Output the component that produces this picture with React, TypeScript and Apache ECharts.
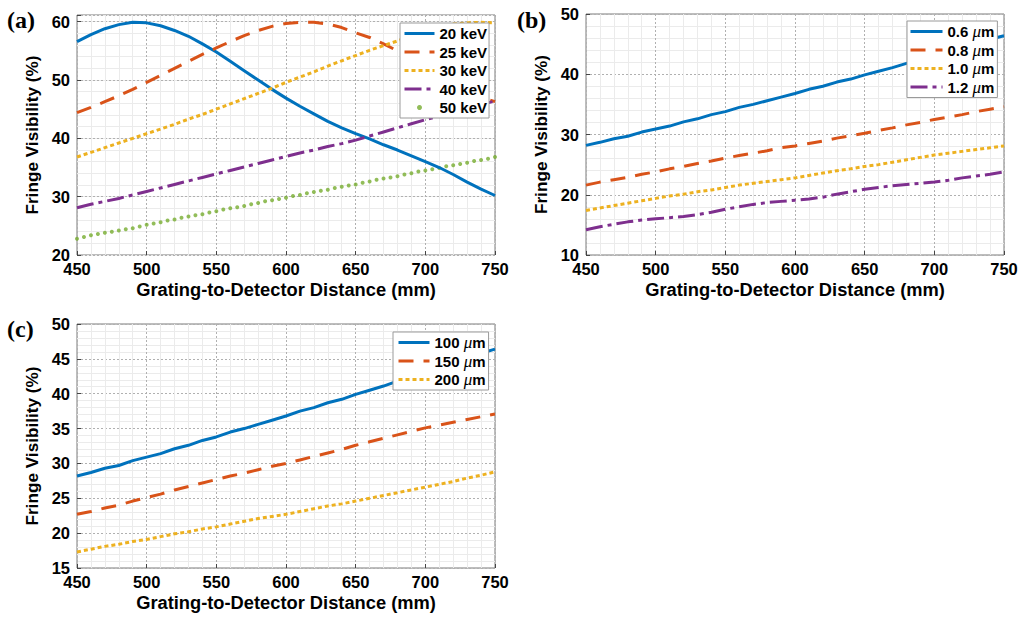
import React, { useEffect, useRef } from 'react';
import * as echarts from 'echarts';

// Grating-to-detector distance (mm)
const distance = [450, 460, 470, 480, 490, 500, 510, 520, 530, 540, 550, 560, 570, 580, 590, 600, 610, 620, 630, 640, 650, 660, 670, 680, 690, 700, 710, 720, 730, 740, 750];
const distance5 = [450, 455, 460, 465, 470, 475, 480, 485, 490, 495, 500, 505, 510, 515, 520, 525, 530, 535, 540, 545, 550, 555, 560, 565, 570, 575, 580, 585, 590, 595, 600, 605, 610, 615, 620, 625, 630, 635, 640, 645, 650, 655, 660, 665, 670, 675, 680, 685, 690, 695, 700, 705, 710, 715, 720, 725, 730, 735, 740, 745, 750];

// (a) energies
const keV20 = [56.6, 57.8, 58.8, 59.5, 59.9, 59.8, 59.3, 58.5, 57.5, 56.2, 54.8, 53.2, 51.6, 50.0, 48.4, 46.9, 45.5, 44.2, 42.9, 41.8, 40.8, 39.9, 38.9, 38.0, 37.0, 36.0, 35.0, 33.8, 32.5, 31.3, 30.2];
const keV25 = [44.4, 45.3, 46.3, 47.3, 48.4, 49.6, 50.8, 52.0, 53.2, 54.4, 55.5, 56.6, 57.6, 58.5, 59.2, 59.7, 59.9, 59.9, 59.6, 59.0, 58.1, 57.3, 56.2, 55.0, 53.7, 52.4, 51.0, 49.6, 48.2, 47.0, 46.3];
const keV30 = [36.8, 37.6, 38.4, 39.2, 40.0, 40.8, 41.6, 42.4, 43.3, 44.1, 45.0, 45.9, 46.8, 47.7, 48.6, 49.6, 50.5, 51.4, 52.4, 53.3, 54.2, 55.1, 55.9, 56.7, 57.6, 58.4, 59.1, 59.6, 59.8, 59.9, 59.8];
const keV40 = [28.1, 28.7, 29.2, 29.7, 30.3, 30.9, 31.5, 32.1, 32.7, 33.3, 33.9, 34.5, 35.1, 35.7, 36.3, 36.9, 37.5, 38.0, 38.6, 39.1, 39.7, 40.4, 41.1, 41.8, 42.5, 43.2, 43.8, 44.5, 45.1, 45.8, 46.4];
const keV50 = [22.8, 23.1, 23.4, 23.6, 23.8, 24.0, 24.2, 24.4, 24.6, 24.9, 25.2, 25.4, 25.6, 25.9, 26.1, 26.4, 26.6, 26.8, 27.0, 27.3, 27.5, 27.8, 28.0, 28.2, 28.4, 28.7, 28.9, 29.2, 29.4, 29.6, 29.8, 30.1, 30.3, 30.6, 30.8, 31.0, 31.2, 31.5, 31.7, 31.9, 32.1, 32.4, 32.6, 32.9, 33.1, 33.3, 33.5, 33.8, 34.0, 34.3, 34.5, 34.7, 34.9, 35.2, 35.4, 35.6, 35.8, 36.1, 36.3, 36.5, 36.8];

// (b) grating periods
const um06 = [28.2, 28.7, 29.3, 29.7, 30.4, 30.9, 31.4, 32.1, 32.6, 33.3, 33.8, 34.5, 35.0, 35.6, 36.2, 36.8, 37.5, 38.0, 38.7, 39.2, 39.9, 40.5, 41.1, 41.8, 42.5, 43.2, 43.9, 44.5, 45.2, 45.8, 46.4];
const um08 = [21.6, 22.1, 22.5, 22.9, 23.4, 23.8, 24.3, 24.7, 25.2, 25.6, 26.1, 26.5, 26.9, 27.3, 27.8, 28.1, 28.5, 28.9, 29.4, 29.8, 30.2, 30.7, 31.1, 31.6, 32.0, 32.5, 32.9, 33.3, 33.8, 34.2, 34.6];
const um10 = [17.4, 17.8, 18.2, 18.6, 19.0, 19.4, 19.8, 20.1, 20.5, 20.8, 21.2, 21.6, 21.9, 22.2, 22.5, 22.8, 23.2, 23.6, 24.0, 24.3, 24.7, 25.0, 25.4, 25.8, 26.2, 26.6, 26.9, 27.2, 27.5, 27.8, 28.1];
const um12 = [14.2, 14.7, 15.1, 15.5, 15.8, 16.0, 16.2, 16.4, 16.7, 17.1, 17.6, 18.0, 18.4, 18.7, 18.9, 19.1, 19.3, 19.6, 20.1, 20.5, 20.9, 21.2, 21.5, 21.7, 21.9, 22.1, 22.4, 22.8, 23.1, 23.4, 23.8];

// (c) source sizes
const um100 = [28.2, 28.7, 29.3, 29.7, 30.4, 30.9, 31.4, 32.1, 32.6, 33.3, 33.8, 34.5, 35.0, 35.6, 36.2, 36.8, 37.5, 38.0, 38.7, 39.2, 39.9, 40.5, 41.1, 41.8, 42.5, 43.2, 43.9, 44.5, 45.2, 45.8, 46.4];
const um150 = [22.7, 23.1, 23.6, 24.0, 24.6, 25.1, 25.6, 26.2, 26.7, 27.2, 27.7, 28.2, 28.6, 29.1, 29.6, 30.0, 30.5, 31.0, 31.5, 32.0, 32.6, 33.1, 33.6, 34.1, 34.6, 35.1, 35.5, 35.9, 36.3, 36.7, 37.1];
const um200 = [17.3, 17.7, 18.1, 18.4, 18.8, 19.1, 19.5, 19.9, 20.2, 20.6, 20.9, 21.3, 21.7, 22.1, 22.4, 22.7, 23.1, 23.5, 23.9, 24.2, 24.6, 25.0, 25.4, 25.8, 26.2, 26.6, 27.0, 27.4, 27.9, 28.3, 28.8];

const legendA = ['20 keV', '25 keV', '30 keV', '40 keV', '50 keV'];
const legendB = ['0.6 μm', '0.8 μm', '1.0 μm', '1.2 μm'];
const legendC = ['100 μm', '150 μm', '200 μm'];
const markerOnly = ['50 keV'];

const xName = 'Grating-to-Detector Distance (mm)';
const yName = 'Fringe Visibility (%)';

const SANS = "'Liberation Sans', Arial, Helvetica, sans-serif";
const SERIF = "'Liberation Serif', 'Times New Roman', serif";
const COL = { blue: '#0072BD', red: '#D95319', yellow: '#EDB120', purple: '#7E2F8E', green: '#77AC30' };
const SOLID = 'solid';
const DASH = [15, 10];
const DOT = [4, 3];
const DASHDOT = [17, 5, 4, 5];

const majorSplit = { show: true, lineStyle: { color: '#b0b0b0', width: 1, type: [2, 2] } };
const minorSplitStyle = { color: '#ebebeb', width: 1, type: 'solid' };
const tickLabel = { fontFamily: SANS, fontWeight: 'bold', fontSize: 16.5, color: '#000' };
const xNameStyle = { fontFamily: SANS, fontWeight: 'bold', fontSize: 18.3, color: '#000' };
const yNameStyle = { fontFamily: SANS, fontWeight: 'bold', fontSize: 17.2, color: '#000' };

function pairs(xs: number[], ys: number[]) {
  return xs.map((x, i) => [x, ys[i]]);
}

function lineSeries(name: string, ys: number[], color: string, type: any, idx: number) {
  return {
    type: 'line', name, data: pairs(distance, ys), xAxisIndex: idx, yAxisIndex: idx,
    symbol: 'none', showSymbol: false, silent: true,
    lineStyle: { color, width: 3, type, cap: 'butt' }, itemStyle: { color },
  };
}

function xAxis(gridIndex: number) {
  return {
    type: 'value', gridIndex, min: 450, max: 750, interval: 50, z: 1,
    axisLine: { show: false },
    axisTick: { show: true, inside: true, length: 4, lineStyle: { color: '#444' } },
    axisLabel: { ...tickLabel, margin: 5 },
    splitLine: majorSplit,
    minorTick: { show: false, splitNumber: 5 },
    minorSplitLine: { show: true, lineStyle: minorSplitStyle },
    name: xName, nameLocation: 'middle', nameGap: 25, nameTextStyle: xNameStyle,
  };
}

function yAxis(gridIndex: number, min: number, max: number, interval: number, minor: boolean) {
  return {
    type: 'value', gridIndex, min, max, interval, z: 1,
    axisLine: { show: false },
    axisTick: { show: true, inside: true, length: 4, lineStyle: { color: '#444' } },
    axisLabel: {
      ...tickLabel, margin: 7,
      formatter: (v: number) => (Math.abs(v / interval - Math.round(v / interval)) < 1e-6 ? String(v) : ''),
    },
    splitLine: majorSplit,
    minorTick: { show: false, splitNumber: 5 },
    minorSplitLine: { show: minor, lineStyle: minorSplitStyle },
    name: yName, nameLocation: 'middle', nameGap: 37, nameTextStyle: yNameStyle,
  };
}

function legend(names: string[], left: number, top: number, itemWidth: number, padding: number[]) {
  return {
    data: names.map((n) => (markerOnly.includes(n) ? { name: n } : { name: n, itemStyle: { opacity: 0 } })),
    orient: 'vertical', left, top, padding, itemWidth, itemHeight: 5, itemGap: 1.5,
    backgroundColor: '#ffffff', borderColor: '#9a9a9a', borderWidth: 1, borderRadius: 0,
    selectedMode: false, z: 10,
    lineStyle: { width: 3 },
    formatter: (n: string) => n.replace('μ', '{mu|μ}'),
    textStyle: {
      fontFamily: SANS, fontWeight: 'bold', fontSize: 15, color: '#000', lineHeight: 17,
      rich: { mu: { fontFamily: SERIF, fontStyle: 'italic', fontWeight: 'normal', fontSize: 17, lineHeight: 17, color: '#000' } },
    },
  };
}

function panelLabel(text: string, x: number, y: number) {
  return {
    type: 'text', x, y, silent: true,
    style: { text, fontFamily: SERIF, fontWeight: 'bold', fontSize: 24, fill: '#000', align: 'left', verticalAlign: 'middle' },
  };
}

export default function App() {
  const ref = useRef<HTMLDivElement>(null);

  useEffect(() => {
    if (!ref.current) return;
    const chart = echarts.init(ref.current, undefined, { renderer: 'svg' });
    const gridStyle = { show: true, backgroundColor: '#ffffff', borderColor: '#7a7a7a', borderWidth: 1, containLabel: false };
    const minorYA = {
      type: 'value', gridIndex: 0, min: 20, max: 61.15, interval: 2, z: 0, position: 'left',
      axisLine: { show: false }, axisTick: { show: false }, axisLabel: { show: false },
      splitLine: { show: true, lineStyle: minorSplitStyle },
    };
    const option: any = {
      animation: false,
      backgroundColor: '#ffffff',
      grid: [
        { ...gridStyle, left: 77, top: 15, width: 418, height: 240 },
        { ...gridStyle, left: 586, top: 14, width: 418, height: 241 },
        { ...gridStyle, left: 77, top: 324, width: 418, height: 244 },
      ],
      xAxis: [xAxis(0), xAxis(1), xAxis(2)],
      yAxis: [
        yAxis(0, 20, 61.15, 10, false),
        yAxis(1, 10, 50, 10, true),
        yAxis(2, 15, 50, 5, true),
        minorYA,
      ],
      legend: [
        legend(legendA, 400, 23, 30, [2, 2, 2, 3]),
        legend(legendB, 907, 21, 32, [2, 3, 2, 2]),
        legend(legendC, 393, 332, 31, [2, 3, 2, 4]),
      ],
      series: [
        lineSeries('20 keV', keV20, COL.blue, SOLID, 0),
        lineSeries('25 keV', keV25, COL.red, DASH, 0),
        lineSeries('30 keV', keV30, COL.yellow, DOT, 0),
        lineSeries('40 keV', keV40, COL.purple, DASHDOT, 0),
        {
          type: 'scatter', name: '50 keV', data: pairs(distance5, keV50), xAxisIndex: 0, yAxisIndex: 0,
          symbol: 'circle', symbolSize: 4, silent: true, itemStyle: { color: COL.green },
        },
        lineSeries('0.6 μm', um06, COL.blue, SOLID, 1),
        lineSeries('0.8 μm', um08, COL.red, DASH, 1),
        lineSeries('1.0 μm', um10, COL.yellow, DOT, 1),
        lineSeries('1.2 μm', um12, COL.purple, DASHDOT, 1),
        lineSeries('100 μm', um100, COL.blue, SOLID, 2),
        lineSeries('150 μm', um150, COL.red, DASH, 2),
        lineSeries('200 μm', um200, COL.yellow, DOT, 2),
      ],
      graphic: [
        panelLabel('(a)', 7, 20),
        panelLabel('(b)', 517, 20),
        panelLabel('(c)', 7, 329),
      ],
    };
    chart.setOption(option);
    return () => chart.dispose();
  }, []);

  return (
    <div
      ref={ref}
      style={{ position: 'absolute', left: 0, top: 0, width: 1021, height: 617, background: '#fff' }}
    />
  );
}
